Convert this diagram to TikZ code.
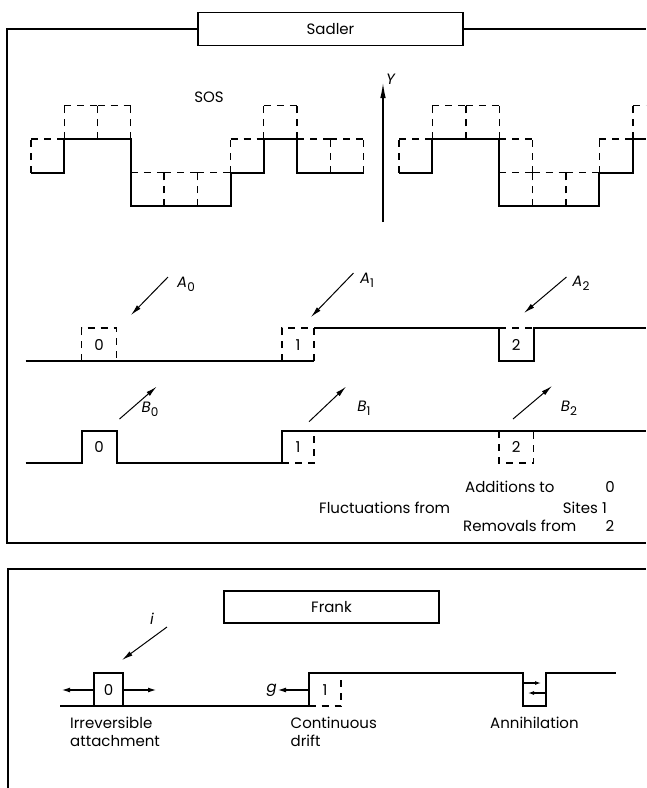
\documentclass[tikz,border=0pt]{standalone}
\usepackage{fontspec}
\setmainfont{Poppins}
\usetikzlibrary{arrows.meta,positioning}

\newcommand{\sublab}[2]{\textit{#1}\raisebox{-0.45ex}{\fontsize{12}{12}\selectfont #2}}

\begin{document}
\begin{tikzpicture}[
  x=1pt,y=-1pt,font=\fontsize{15}{18}\selectfont,
  >={Latex[length=11pt,width=5pt]},
  frame/.style={line width=1.3pt},
  titlebox/.style={draw,line width=1.3pt,minimum height=33pt,inner sep=0pt},
  surf/.style={line width=2pt,line join=miter},
  cell/.style={line width=1.4pt,dash pattern=on 7pt off 6pt},
  ar/.style={->,line width=1pt},
  small/.style={->,line width=1.1pt,>={Latex[length=8pt,width=5pt]}},
  txt/.style={inner sep=0pt,anchor=west}
]
\useasboundingbox (0,0) rectangle (646,788);

% Sadler panel
\node[titlebox,minimum width=265pt] (sadler) at (330.5,29) {Sadler};
\draw[frame] (sadler.west) -- (7,29) -- (7,543) -- (646,543);
\draw[frame] (sadler.east) -- (646,29);

\node (sos) at (209,97) {SOS};
\coordinate (ybot) at (383,222);
\coordinate (ytop) at (383,83);
\draw[line width=1.1pt,-{Latex[length=15pt,width=5.5pt]}] (ybot) -- (ytop);
\node[anchor=south west,inner sep=1pt] (ylab) at (385,86) {\textit{Y}};

% SOS surfaces: solid profile, dashed = one more atom on each column
\foreach \h [count=\k from 0] in {1,2,2,0,0,0,1,2,1,1}
  \draw[cell] (31+33.25*\k,206-33.5*\h) -- ++(0,-33.5)
              (64.25+33.25*\k,206-33.5*\h) -- ++(0,-33.5)
              (31+33.25*\k,172.5-33.5*\h) -- ++(33.25,0);
\draw[surf] (31,172.5) -- (64.25,172.5) -- (64.25,139) -- (130.75,139) -- (130.75,206)
  -- (230.5,206) -- (230.5,172.5) -- (263.75,172.5) -- (263.75,139) -- (297,139)
  -- (297,172.5) -- (363.5,172.5);

\begin{scope}
\clip (0,0) rectangle (646,788);
\foreach \h [count=\k from 0] in {1,2,2,0,0,0,1,2}
  \draw[cell] (399+33.4*\k,206-33.5*\h) -- ++(0,-33.5)
              (432.4+33.4*\k,206-33.5*\h) -- ++(0,-33.5)
              (399+33.4*\k,172.5-33.5*\h) -- ++(33.4,0);
\draw[cell] (532.6,172.5) -- (532.6,139) (499.2,139) -- (532.6,139);
\draw[surf] (399,172.5) -- (432.4,172.5) -- (432.4,139) -- (499.2,139) -- (499.2,206)
  -- (599.4,206) -- (599.4,172.5) -- (632.8,172.5) -- (632.8,139) -- (646,139);
\end{scope}

% additions
\draw[surf] (25.5,361) -- (314,361);
\draw[surf] (314,328) -- (499,328) -- (499,361) -- (533.6,361) -- (533.6,328) -- (646,328);
\draw[cell] (81.6,361) -- (81.6,328) -- (116.6,328) -- (116.6,361);
\draw[cell] (282,361) -- (282,328) -- (314,328) -- (314,361);
\draw[cell] (499,328) -- (533.6,328);
\node (a0) at (99,345) {0};
\node (a1) at (298,345) {1};
\node (a2) at (516.3,345) {2};

\coordinate (a0tail) at (168,277); \coordinate (a0tip) at (131,315);
\coordinate (a1tail) at (353.5,273); \coordinate (a1tip) at (311,317);
\coordinate (a2tail) at (566.5,277); \coordinate (a2tip) at (524,313);
\draw[ar] (a0tail) -- (a0tip);
\draw[ar] (a1tail) -- (a1tip);
\draw[ar] (a2tail) -- (a2tip);
\node (la0) at (186,284) {\sublab{A}{0}};
\node (la1) at (367,280) {\sublab{A}{1}};
\node (la2) at (581,283) {\sublab{A}{2}};

% removals
\draw[surf] (25.5,463) -- (81.6,463) -- (81.6,431) -- (116.6,431) -- (116.6,463)
  -- (282,463) -- (282,431) -- (646,431);
\draw[cell] (282,463) -- (314,463) -- (314,431);
\draw[cell] (499,431) -- (499,463) -- (533.6,463) -- (533.6,431);
\node (b0) at (99,447) {0};
\node (b1) at (298,447) {1};
\node (b2) at (516.3,447) {2};

\coordinate (b0tail) at (119.5,419); \coordinate (b0tip) at (156.6,386.7);
\coordinate (b1tail) at (309,421.7); \coordinate (b1tip) at (346,386.7);
\coordinate (b2tail) at (513,419); \coordinate (b2tip) at (552,386);
\draw[ar] (b0tail) -- (b0tip);
\draw[ar] (b1tail) -- (b1tip);
\draw[ar] (b2tail) -- (b2tip);
\node (lb0) at (150,409) {\sublab{B}{0}};
\node (lb1) at (364,408) {\sublab{B}{1}};
\node (lb2) at (569,408) {\sublab{B}{2}};

\node[txt] (add) at (465,487) {Additions to};
\node (s0) at (610,487) {0};
\node[txt] (fluc) at (319,508) {Fluctuations from};
\node[anchor=east,inner sep=0pt] (sites) at (607,508) {Sites 1};
\node[txt] (rem) at (463,526) {Removals from};
\node (s2) at (610,526) {2};

% Frank panel
\draw[frame] (646,569) -- (8,569) -- (8,788);
\node[titlebox,minimum width=215pt,minimum height=32pt] (frank) at (331.5,607) {Frank};

\draw[surf] (60,706) -- (308.5,706) -- (308.5,673) -- (523,673) -- (523,706)
  -- (546,706) -- (546,673) -- (616,673);
\draw[surf] (94,706) rectangle (123,673);
\draw[cell] (308.5,706) -- (341,706) -- (341,673);
\node (f0) at (108.5,690) {0};
\node (f1) at (325,690) {1};

\coordinate (itail) at (167,627); \coordinate (itip) at (122,660);
\draw[ar] (itail) -- (itip);
\node (li) at (152,619) {\textit{i}};
\coordinate (lend) at (62,690); \coordinate (rend) at (156,690);
\draw[small] (94,690) -- (lend);
\draw[small] (123,690) -- (rend);
\coordinate (gend) at (278,690);
\draw[small] (308.5,690) -- (gend);
\node[anchor=east,inner sep=1pt] (lg) at (gend) {\textit{g}};
\coordinate (annr) at (541,683); \coordinate (annl) at (528,693);
\draw[small,>={Latex[length=6pt,width=4pt]}] (523,683) -- (annr);
\draw[small,>={Latex[length=6pt,width=4pt]}] (546,693) -- (annl);

\node[txt,align=left,anchor=north west] (irr) at (70,717) {Irreversible\\attachment};
\node[txt,align=left,anchor=north west] (cont) at (290.5,717) {Continuous\\drift};
\node[txt,anchor=north west] (anni) at (490,717) {Annihilation};
\end{tikzpicture}
\end{document}
